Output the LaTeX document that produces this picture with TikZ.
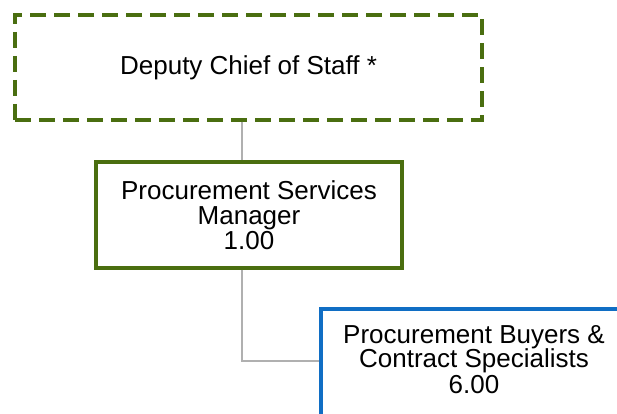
\documentclass[tikz,border=0pt]{standalone}
\usepackage{fontspec}
\setmainfont{Liberation Sans}
\definecolor{orggreen}{RGB}{74,110,16}
\definecolor{orgblue}{RGB}{16,110,196}
\definecolor{orggray}{RGB}{176,176,176}
\begin{document}
\begin{tikzpicture}[x=1pt,y=-1pt,
  box/.style={rectangle, draw, line width=3.5pt, fill=white, align=center, inner sep=0pt,
    font=\fontsize{26}{25}\selectfont},
  greenbox/.style={box, draw=orggreen, minimum width=306pt, minimum height=106pt},
  dashbox/.style={box, draw=orggreen, dash pattern=on 16pt off 8pt, minimum width=467pt, minimum height=105pt},
  bluebox/.style={box, draw=orgblue, minimum width=306pt, minimum height=112pt},
  link/.style={draw=orggray, line width=2pt}]
\useasboundingbox (0,0) rectangle (617,414);
\coordinate (lx) at (242,0);
\coordinate (j) at (242,361);
\node[dashbox] (top) at (248.5,67.5) {Deputy Chief of Staff *};
\node[greenbox] (mid) at (249,215) {Procurement Services\\Manager\\1.00};
\node[bluebox] (blue) at (474,365) {Procurement Buyers \&\\Contract Specialists\\6.00\\[-13pt]};
\draw[link] (top.south -| lx) -- (mid.north -| lx);
\draw[link] (mid.south -| lx) -- (j) -- (blue.west |- j);
\end{tikzpicture}
\end{document}
